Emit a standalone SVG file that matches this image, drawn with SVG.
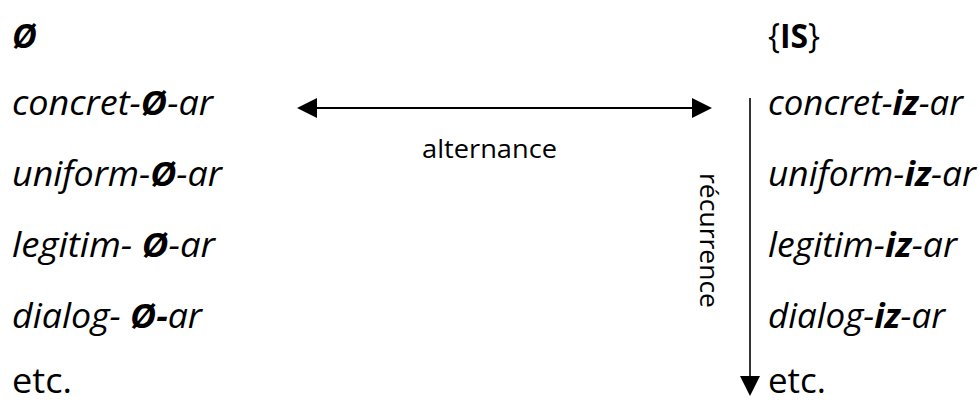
<svg xmlns="http://www.w3.org/2000/svg" width="979" height="403" viewBox="0 0 979 403">
<style>
text{font-family:"Open Sans","Noto Sans",sans-serif;fill:#000}
.w{font-size:34px;font-style:italic}
.b{font-weight:bold}
.r{font-style:normal}
.lab{font-size:25px}
.ln{stroke:#000;stroke-width:2;fill:none}
</style>
<defs>
<marker id="ah" markerUnits="userSpaceOnUse" markerWidth="20" markerHeight="20" refX="0" refY="10" orient="auto-start-reverse" viewBox="0 0 20 20">
<path d="M0,0 L20,10 L0,20 z" fill="#000"/>
</marker>
</defs>
<rect width="979" height="403" fill="#fff"/>
<g id="left-header"><text class="w b" x="12" y="48" font-size="36">Ø</text></g>
<g id="left-concret"><text class="w" x="12" y="115" textLength="201" lengthAdjust="spacingAndGlyphs">concret-<tspan class="b">Ø</tspan>-ar</text></g>
<g id="left-uniform"><text class="w" x="12" y="186" textLength="210" lengthAdjust="spacingAndGlyphs">uniform-<tspan class="b">Ø</tspan>-ar</text></g>
<g id="left-legitim"><text class="w" x="12" y="257" textLength="203" lengthAdjust="spacingAndGlyphs">legitim- <tspan class="b">Ø</tspan>-ar</text></g>
<g id="left-dialog"><text class="w" x="12" y="328" textLength="190" lengthAdjust="spacingAndGlyphs">dialog- <tspan class="b">Ø-</tspan>ar</text></g>
<g id="left-etc"><text class="w r" x="12" y="393" textLength="60" lengthAdjust="spacingAndGlyphs">etc.</text></g>
<g id="right-header"><text class="w r" x="768" y="48" textLength="52" lengthAdjust="spacingAndGlyphs">{<tspan class="b">IS</tspan>}</text></g>
<g id="right-concret"><text class="w" x="768" y="115" textLength="195" lengthAdjust="spacingAndGlyphs">concret-<tspan class="b">iz</tspan>-ar</text></g>
<g id="right-uniform"><text class="w" x="768" y="186" textLength="208" lengthAdjust="spacingAndGlyphs">uniform-<tspan class="b">iz</tspan>-ar</text></g>
<g id="right-legitim"><text class="w" x="768" y="257" textLength="189" lengthAdjust="spacingAndGlyphs">legitim-<tspan class="b">iz</tspan>-ar</text></g>
<g id="right-dialog"><text class="w" x="768" y="328" textLength="177" lengthAdjust="spacingAndGlyphs">dialog-<tspan class="b">iz</tspan>-ar</text></g>
<g id="right-etc"><text class="w r" x="768" y="393" textLength="58" lengthAdjust="spacingAndGlyphs">etc.</text></g>
<g id="connectors">
<line class="ln" x1="317" y1="108" x2="692" y2="108" marker-start="url(#ah)" marker-end="url(#ah)"/>
<line class="ln" x1="750" y1="98" x2="750" y2="376" stroke-width="1.5" style="stroke:#333" marker-end="url(#ah)"/>
<text class="lab" x="422" y="158" textLength="135" lengthAdjust="spacingAndGlyphs">alternance</text>
<text class="lab" transform="translate(700,173) rotate(90)" textLength="135" lengthAdjust="spacingAndGlyphs">récurrence</text>
</g>
</svg>
